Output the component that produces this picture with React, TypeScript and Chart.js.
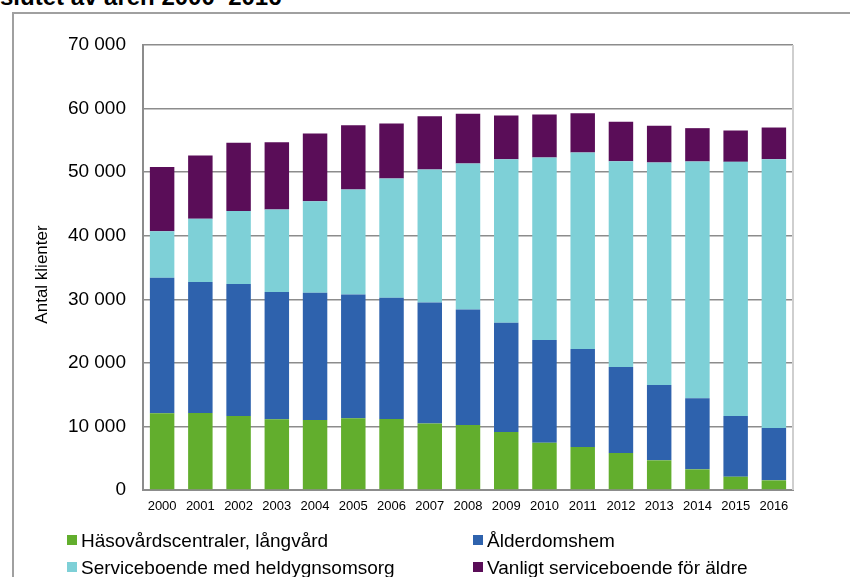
import React, { useEffect, useRef } from "react";
import { Chart, registerables } from "chart.js";

Chart.register(...registerables);

const years = ["2000", "2001", "2002", "2003", "2004", "2005", "2006", "2007", "2008", "2009", "2010", "2011", "2012", "2013", "2014", "2015", "2016"];

const halsovard = [12060, 12100, 11650, 11110, 11000, 11270, 11160, 10480, 10220, 9120, 7440, 6760, 5820, 4670, 3250, 2090, 1520];
const alderdomshem = [21320, 20600, 20740, 20020, 20020, 19500, 19080, 19030, 18190, 17180, 16140, 15410, 13520, 11840, 11170, 9545, 8230];
const heldygn = [7340, 9960, 11480, 13000, 14420, 16510, 18770, 20910, 22960, 25740, 28730, 30930, 32390, 35010, 37260, 39985, 42290];
const vanligt = [10070, 9960, 10740, 10590, 10640, 10110, 8640, 8380, 7800, 6870, 6760, 6180, 6180, 5760, 5240, 4930, 4980];

const seriesNames = [
  "Häsovårdscentraler, långvård",
  "Ålderdomshem",
  "Serviceboende med heldygnsomsorg",
  "Vanligt serviceboende för äldre",
];
const seriesColors = ["#62AE2D", "#2E62AD", "#7ED0D7", "#5A0D58"];

const yTicks = { min: 0, max: 70000, step: 10000 };
const titleText = "slutet av åren 2000–2016";
const yTitle = "Antal klienter";

const FONT = "'Liberation Sans', Arial, sans-serif";

const fmt = (v: number) => String(v).replace(/\B(?=(\d{3})+(?!\d))/g, " ");

const plotExtras = {
  id: "plotExtras",
  beforeDatasetsDraw(chart: any) {
    const { ctx, chartArea } = chart;
    ctx.save();
    ctx.strokeStyle = "#cfcfcf";
    ctx.lineWidth = 2;
    ctx.beginPath();
    ctx.moveTo(chartArea.right, chartArea.top);
    ctx.lineTo(chartArea.right, chartArea.bottom);
    ctx.stroke();
    ctx.restore();
  },
  afterDraw(chart: any) {
    const { ctx, chartArea } = chart;
    ctx.save();
    ctx.translate(42.5, (chartArea.top + chartArea.bottom) / 2 + 7);
    ctx.rotate(-Math.PI / 2);
    ctx.font = `17px ${FONT}`;
    ctx.fillStyle = "#000";
    ctx.textAlign = "center";
    ctx.textBaseline = "middle";
    ctx.fillText(yTitle, 0, 0);
    ctx.restore();
  },
};

export default function App() {
  const ref = useRef<HTMLCanvasElement | null>(null);

  useEffect(() => {
    if (!ref.current) return;
    const data = [halsovard, alderdomshem, heldygn, vanligt];
    const chart = new Chart(ref.current, {
      type: "bar",
      data: {
        labels: years,
        datasets: data.map((d, i) => ({
          label: seriesNames[i],
          data: d,
          backgroundColor: seriesColors[i],
          borderWidth: 0,
          categoryPercentage: 1,
          barPercentage: 0.64,
        })),
      },
      plugins: [plotExtras],
      options: {
        animation: false,
        responsive: false,
        maintainAspectRatio: false,
        layout: { padding: { left: 28, right: 57, top: 45, bottom: 57 } },
        plugins: { legend: { display: false }, tooltip: { enabled: false }, title: { display: false } },
        scales: {
          x: {
            stacked: true,
            grid: { display: false, drawTicks: false },
            border: { display: true, color: "#8c8c8c", width: 2 },
            ticks: { color: "#000", padding: 9, font: { family: FONT, size: 13 }, maxRotation: 0, autoSkip: false },
            afterFit: (s: any) => { s.height = 30; },
          },
          y: {
            stacked: true,
            min: yTicks.min,
            max: yTicks.max,
            grid: { color: "#8c8c8c", lineWidth: 1.5, drawTicks: false },
            border: { display: true, color: "#8c8c8c", width: 2 },
            ticks: {
              stepSize: yTicks.step,
              color: "#000",
              padding: 17,
              font: { family: FONT, size: 19 },
              callback: (v: any) => fmt(Number(v)),
            },
            afterFit: (s: any) => { s.width = 115; },
          },
        },
      },
    });
    return () => chart.destroy();
  }, []);

  const legendItem = (i: number, left: number, rowCenter: number) => (
    <React.Fragment key={i}>
      <div style={{ position: "absolute", left, top: rowCenter - 5, width: 10, height: 10, background: seriesColors[i] }} />
      <div style={{ position: "absolute", left: left + 14, top: rowCenter - 9.3, fontFamily: FONT, fontSize: 19, lineHeight: "19px", color: "#000", whiteSpace: "nowrap" }}>
        {seriesNames[i]}
      </div>
    </React.Fragment>
  );

  return (
    <div style={{ position: "fixed", left: 0, top: 0, width: 850, height: 577, overflow: "hidden", background: "#fff" }}>
      <div style={{ position: "absolute", left: 0, top: -15, fontFamily: FONT, fontWeight: "bold", fontSize: 24, lineHeight: "24px", color: "#000", whiteSpace: "nowrap" }}>
        {titleText}
      </div>
      <div style={{ position: "absolute", left: 12, top: 12, width: 900, height: 700, border: "2px solid #a0a0a0", boxSizing: "border-box" }} />
      <canvas ref={ref} width={850} height={577} style={{ position: "absolute", left: 0, top: 0, width: 850, height: 577 }} />
      {legendItem(0, 67, 540)}
      {legendItem(1, 473, 540)}
      {legendItem(2, 67, 567)}
      {legendItem(3, 473, 567)}
    </div>
  );
}
